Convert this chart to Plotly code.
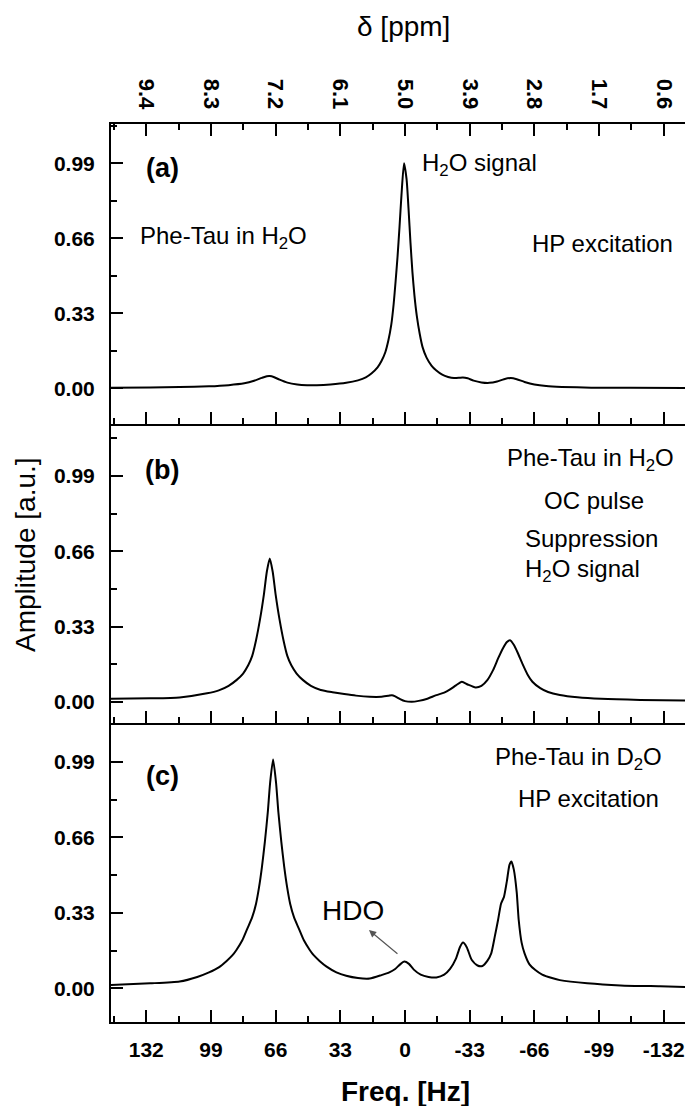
import plotly.graph_objects as go

# ---------------- data ----------------
hz_ticks = [132, 99, 66, 33, 0, -33, -66, -99, -132]
hz_labels = ["132", "99", "66", "33", "0", "-33", "-66", "-99", "-132"]
ppm_labels = ["9.4", "8.3", "7.2", "6.1", "5.0", "3.9", "2.8", "1.7", "0.6"]

freq_a = [150, 130, 115, 100, 90, 82, 77, 73, 70.5, 69, 67, 64, 60, 55, 50, 45, 38, 30, 24, 20,
          17, 14, 12, 10, 8.5, 7, 5.8, 4.8, 3.8, 2.8, 1.8, 0.5, -0.8, -1.8, -2.8, -3.8, -4.8, -6,
          -7.5, -9, -11, -13.5, -16, -19, -22, -25, -27.5, -29.5, -32, -35, -39, -43, -47, -50.5,
          -54, -57, -61, -66, -72, -80, -95, -115, -150]
amp_a = [0.003, 0.004, 0.006, 0.009, 0.014, 0.022, 0.033, 0.046, 0.053, 0.054, 0.05, 0.038, 0.025,
         0.017, 0.014, 0.014, 0.017, 0.024, 0.035, 0.048, 0.066, 0.092, 0.12, 0.16, 0.21, 0.28,
         0.37, 0.47, 0.58, 0.71, 0.85, 0.99, 0.92, 0.79, 0.64, 0.51, 0.41, 0.32, 0.24, 0.18, 0.135,
         0.10, 0.078, 0.06, 0.05, 0.045, 0.046, 0.048, 0.044, 0.034, 0.026, 0.024, 0.030, 0.040,
         0.045, 0.040, 0.028, 0.017, 0.010, 0.006, 0.003, 0.002, 0.001]

freq_b = [150, 130, 115, 101, 95, 90, 86, 82.6, 80, 78, 76, 74, 72, 70.5, 69, 67.5, 66, 64, 62,
          60, 58, 55.3, 52, 48, 43, 37, 31, 25, 18, 12, 8.5, 6.7, 5, 2.5, 0, -3.5, -7, -11, -16,
          -20, -23, -26, -29, -32, -36, -39, -42, -45, -47.5, -50, -52, -53.6, -55.5, -57.5, -60,
          -62.5, -65, -69, -73, -79, -88, -100, -120, -150]
amp_b = [0.013, 0.015, 0.019, 0.037, 0.05, 0.07, 0.095, 0.124, 0.16, 0.20, 0.27, 0.36, 0.47, 0.57,
         0.628, 0.57, 0.47, 0.36, 0.27, 0.20, 0.16, 0.124, 0.095, 0.07, 0.052, 0.042, 0.034, 0.027,
         0.022, 0.022, 0.026, 0.029, 0.024, 0.012, 0.003, 0.0, 0.004, 0.012, 0.029, 0.040, 0.054,
         0.072, 0.088, 0.076, 0.063, 0.070, 0.095, 0.14, 0.19, 0.235, 0.262, 0.27, 0.25, 0.215,
         0.165, 0.12, 0.088, 0.06, 0.043, 0.03, 0.02, 0.013, 0.008, 0.005]

freq_c = [150, 130, 115, 106, 100, 95, 91, 88, 86, 83, 80.5, 78, 76, 74.5, 73, 71.5, 70, 68.8,
          67.3, 65.8, 64.6, 63.1, 61.6, 60.1, 58.6, 56.6, 54.1, 51.6, 48.6, 46.6, 43.6, 40, 35, 30,
          24, 18, 12, 8, 5, 2.5, 0.4, -2, -4.5, -8, -12, -16, -20, -23, -26, -28, -29.6, -31.5,
          -34, -37, -39.5, -42, -44, -45.8, -47.5, -49, -50.5, -52, -53.3, -54.3, -55.5, -57,
          -58, -59.5, -61, -63.5, -66.5, -70, -75, -79, -93, -110, -130, -150]
amp_c = [0.015, 0.022, 0.03, 0.05, 0.07, 0.092, 0.12, 0.145, 0.168, 0.21, 0.26, 0.31, 0.37, 0.44,
         0.53, 0.64, 0.77, 0.90, 1.0, 0.90, 0.77, 0.64, 0.53, 0.44, 0.37, 0.31, 0.26, 0.21, 0.168,
         0.145, 0.12, 0.095, 0.07, 0.055, 0.045, 0.043, 0.058, 0.07, 0.085, 0.105, 0.117, 0.107,
         0.082, 0.06, 0.05, 0.048, 0.06, 0.085, 0.13, 0.18, 0.20, 0.18, 0.125, 0.10, 0.098, 0.12,
         0.153, 0.226, 0.30, 0.37, 0.40, 0.47, 0.54, 0.555, 0.52, 0.42, 0.30, 0.20, 0.153, 0.105,
         0.08, 0.06, 0.045, 0.036, 0.022, 0.013, 0.009, 0.005]

# ---------------- layout geometry ----------------
# The page body has an 8 px margin, so figure coordinates = screen coordinates - 8.
OFF = 8
W, H = 700, 1098
L, R, T, B = 103, 9, 116, 84          # plot area on screen: x 111..699, y 124..1022
PW, PH = W - L - R, H - T - B
XR = [150, -150]


def px(sx):
    return (sx - OFF - L) / PW


def py(sy):
    return (H - B - (sy - OFF)) / PH


d_c = [0, py(723)]
d_b = [py(723), py(424)]
d_a = [py(424), 1]
yr_a = [-0.157, 1.163]
yr_b = [-0.093, 1.218]
yr_c = [-0.147, 1.16]

FONT = "Arial, Liberation Sans, sans-serif"
spline = dict(color="black", width=2, shape="spline", smoothing=0.6)

fig = go.Figure()
fig.add_trace(go.Scatter(x=freq_c, y=amp_c, xaxis="x", yaxis="y", mode="lines", line=spline))
fig.add_trace(go.Scatter(x=freq_b, y=amp_b, xaxis="x2", yaxis="y2", mode="lines", line=spline))
fig.add_trace(go.Scatter(x=freq_a, y=amp_a, xaxis="x3", yaxis="y3", mode="lines", line=spline))
# helper trace so the top ppm axis is drawn
fig.add_trace(go.Scatter(x=[None], y=[None], xaxis="x4", yaxis="y3", showlegend=False))

tickfont = dict(family=FONT, size=21, color="black", weight="bold")


def xax(anchor, labels, **kw):
    d = dict(domain=[0, 1], anchor=anchor, range=XR, autorange=False,
             tickmode="array", tickvals=hz_ticks, ticktext=hz_labels,
             showticklabels=labels, ticks="inside", ticklen=12, tickwidth=1.5,
             tickcolor="black",
             minor=dict(ticks="inside", ticklen=6, tickwidth=1.5, tickcolor="black",
                        tick0=0, dtick=16.5, showgrid=False),
             showline=True, linewidth=2, linecolor="black", showgrid=False,
             zeroline=False, tickfont=tickfont, ticklabelstandoff=8, automargin=False)
    d.update(kw)
    return d


def yax(dom, rng, anchor):
    return dict(domain=dom, range=rng, anchor=anchor, autorange=False,
                tick0=0, dtick=0.33, tickformat=".2f", ticks="inside", ticklen=12,
                tickwidth=1.5, tickcolor="black",
                minor=dict(ticks="inside", ticklen=6, tickwidth=1.5, tickcolor="black",
                           tick0=0, dtick=0.165, showgrid=False),
                showline=True, linewidth=2, linecolor="black", mirror="ticks",
                showgrid=False, zeroline=False, tickfont=tickfont, ticklabelstandoff=10,
                automargin=False)


fig.update_layout(
    width=W, height=H,
    margin=dict(l=L, r=R, t=T, b=B, pad=0, autoexpand=False),
    paper_bgcolor="white", plot_bgcolor="white",
    showlegend=False,
    font=dict(family=FONT, color="black"),
    xaxis=xax("y", True),
    xaxis2=xax("y2", False),
    xaxis3=xax("y3", False),
    xaxis4=xax("y3", True, overlaying="x3", side="top", ticktext=ppm_labels,
               tickangle=90, ticklabelstandoff=5,
               tickfont=dict(family=FONT, size=22, color="black", weight="bold")),
    yaxis=yax(d_c, yr_c, "x"),
    yaxis2=yax(d_b, yr_b, "x2"),
    yaxis3=yax(d_a, yr_a, "x3"),
)

ann = []


def text(t, x, y, xanchor="center", size=24, bold=False, angle=0):
    f = dict(family=FONT, size=size, color="black")
    if bold:
        f["weight"] = "bold"
    ann.append(dict(text=t, x=px(x), y=py(y), xref="paper", yref="paper",
                    xanchor=xanchor, yanchor="middle", showarrow=False,
                    font=f, textangle=angle))


# axis titles
text("δ [ppm]", 403, 27, size=28)
text("Amplitude [a.u.]", 25, 555, size=28, angle=-90)
text("Freq. [Hz]", 405, 1091, size=28, bold=True)

# panel labels
text("(a)", 162, 168, size=27, bold=True)
text("(b)", 162, 470, size=27, bold=True)
text("(c)", 162, 776, size=27, bold=True)

# panel (a)
text("H<sub>2</sub>O signal", 420, 165, xanchor="left")
text("Phe-Tau in H<sub>2</sub>O", 138, 237, xanchor="left")
text("HP excitation", 675, 243, xanchor="right")
# panel (b)
text("Phe-Tau in H<sub>2</sub>O", 676, 459, xanchor="right")
text("OC pulse", 594, 500)
text("Suppression", 523, 538, xanchor="left")
text("H<sub>2</sub>O signal", 523, 570, xanchor="left")
# panel (c)
text("Phe-Tau in D<sub>2</sub>O", 664, 758, xanchor="right")
text("HP excitation", 661, 798, xanchor="right")
text("HDO", 353, 910, size=28)

# HDO arrow
ann.append(dict(text="", x=18.4, y=0.255, xref="x", yref="y", ax=30, ay=25,
                axref="pixel", ayref="pixel", showarrow=True, arrowhead=2,
                arrowsize=1.2, arrowwidth=1.2, arrowcolor="#555555"))

fig.update_layout(annotations=ann)
fig.write_html("out.html")
